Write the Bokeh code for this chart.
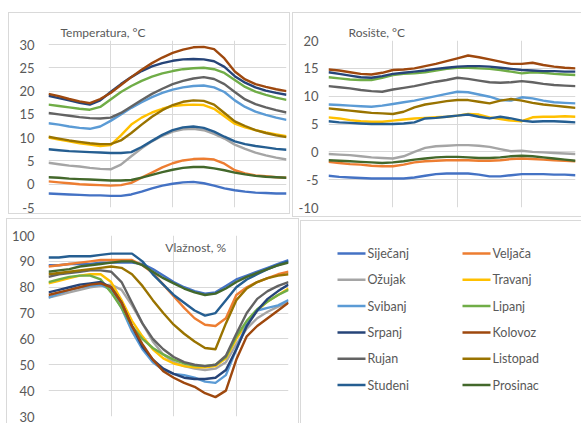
from bokeh.plotting import figure
from bokeh.models import Range1d, FixedTicker, Label, InlineStyleSheet
from bokeh.layouts import column, row
from bokeh.embed import file_html
from bokeh.resources import INLINE

# ---------------- data ----------------
hours = list(range(24))
months = ["Siječanj", "Veljača", "Ožujak", "Travanj", "Svibanj", "Lipanj",
          "Srpanj", "Kolovoz", "Rujan", "Listopad", "Studeni", "Prosinac"]
colors = ["#4472C4", "#ED7D31", "#A5A5A5", "#FFC000", "#5B9BD5", "#70AD47",
          "#264478", "#9E480E", "#636363", "#997300", "#255E91", "#43682B"]

# Temperatura, °C
t_sij = [-2.0, -2.1, -2.2, -2.3, -2.4, -2.4, -2.5, -2.5, -2.2, -1.6, -0.9, -0.3, 0.1, 0.4, 0.5, 0.2, -0.3, -0.9, -1.3, -1.6, -1.8, -1.9, -2.0, -2.0]
t_velj = [0.6, 0.4, 0.2, 0.0, -0.1, -0.2, -0.3, -0.2, 0.3, 1.4, 2.5, 3.6, 4.5, 5.1, 5.4, 5.5, 5.3, 4.4, 3.0, 2.3, 1.9, 1.7, 1.5, 1.4]
t_ozu = [4.6, 4.3, 4.0, 3.8, 3.5, 3.3, 3.2, 4.2, 6.0, 7.7, 9.2, 10.4, 11.3, 11.8, 11.9, 11.6, 10.8, 9.8, 8.5, 7.6, 6.8, 6.2, 5.7, 5.3]
t_trav = [10.0, 9.6, 9.2, 8.8, 8.5, 8.2, 8.4, 10.5, 12.8, 14.3, 15.4, 16.2, 16.8, 17.0, 17.1, 17.0, 16.2, 14.6, 13.0, 12.2, 11.6, 11.1, 10.7, 10.3]
t_svib = [13.1, 12.8, 12.4, 12.1, 11.9, 12.4, 13.6, 15.0, 16.4, 17.6, 18.7, 19.6, 20.3, 20.8, 21.1, 21.2, 20.8, 19.8, 18.0, 16.6, 15.6, 14.9, 14.3, 13.8]
t_lip = [17.1, 16.8, 16.5, 16.2, 16.0, 16.6, 18.2, 19.8, 21.1, 22.2, 23.1, 23.8, 24.3, 24.7, 24.9, 25.0, 24.7, 23.9, 22.4, 20.9, 19.9, 19.2, 18.6, 18.1]
t_srp = [19.0, 18.5, 18.0, 17.5, 17.1, 18.0, 19.8, 21.5, 23.0, 24.3, 25.3, 26.0, 26.5, 26.8, 26.9, 26.8, 26.4, 25.2, 23.2, 21.8, 20.8, 20.1, 19.6, 19.2]
t_kol = [19.4, 18.9, 18.3, 17.8, 17.4, 18.3, 19.6, 21.3, 23.0, 24.6, 26.0, 27.2, 28.2, 28.9, 29.4, 29.5, 29.0, 27.0, 24.2, 22.5, 21.5, 20.9, 20.4, 20.0]
t_ruj = [15.3, 15.0, 14.7, 14.4, 14.2, 14.1, 14.3, 15.3, 16.7, 18.1, 19.4, 20.5, 21.5, 22.2, 22.7, 23.0, 22.6, 21.5, 19.8, 18.2, 17.2, 16.5, 15.9, 15.4]
t_list = [10.2, 9.8, 9.4, 9.1, 8.8, 8.6, 8.6, 9.4, 11.0, 12.8, 14.5, 15.9, 17.0, 17.7, 18.0, 17.9, 17.1, 15.3, 13.5, 12.5, 11.6, 11.0, 10.5, 10.1]
t_stud = [7.5, 7.3, 7.1, 7.0, 6.9, 6.8, 6.7, 6.7, 6.9, 8.0, 9.3, 10.6, 11.6, 12.2, 12.4, 12.1, 11.3, 10.2, 9.2, 8.6, 8.2, 7.9, 7.6, 7.4]
t_pros = [1.5, 1.4, 1.2, 1.1, 1.0, 0.9, 0.8, 0.8, 0.9, 1.4, 2.0, 2.6, 3.1, 3.5, 3.7, 3.7, 3.4, 3.0, 2.5, 2.1, 1.8, 1.6, 1.5, 1.4]

# Rosište, °C
r_sij = [-4.3, -4.5, -4.6, -4.7, -4.8, -4.8, -4.8, -4.8, -4.6, -4.3, -4.0, -3.9, -3.9, -3.9, -4.1, -4.4, -4.4, -4.2, -4.0, -4.0, -4.0, -4.1, -4.1, -4.2]
r_velj = [-1.8, -2.0, -2.2, -2.3, -2.5, -2.6, -2.6, -2.3, -1.9, -1.7, -1.6, -1.5, -1.5, -1.5, -1.6, -1.6, -1.5, -1.3, -1.2, -1.3, -1.4, -1.5, -1.6, -1.7]
r_ozu = [-0.4, -0.5, -0.6, -0.8, -1.0, -1.1, -1.2, -0.8, 0.0, 0.7, 1.0, 1.1, 1.2, 1.2, 1.1, 0.9, 0.5, 0.1, 0.2, 0.0, -0.1, -0.2, -0.3, -0.4]
r_trav = [6.2, 6.0, 5.7, 5.5, 5.4, 5.4, 5.6, 5.8, 6.0, 6.1, 6.2, 6.3, 6.5, 6.8, 6.7, 6.2, 5.9, 5.6, 5.5, 6.2, 6.3, 6.3, 6.4, 6.3]
r_svib = [8.5, 8.4, 8.3, 8.2, 8.1, 8.3, 8.6, 8.9, 9.2, 9.6, 10.0, 10.4, 10.8, 10.7, 10.3, 9.9, 9.3, 9.2, 9.8, 9.6, 9.2, 8.9, 8.8, 8.7]
r_lip = [13.4, 13.2, 13.0, 12.9, 12.9, 13.3, 13.8, 14.0, 14.1, 14.3, 14.6, 14.9, 15.1, 15.1, 15.0, 14.9, 14.7, 14.4, 14.1, 14.3, 14.2, 14.0, 13.9, 13.8]
r_srp = [14.3, 14.0, 13.7, 13.4, 13.3, 13.6, 14.0, 14.2, 14.4, 14.6, 14.9, 15.1, 15.3, 15.4, 15.4, 15.3, 15.1, 14.9, 14.7, 14.6, 14.5, 14.5, 14.4, 14.4]
r_kol = [14.8, 14.6, 14.3, 14.0, 13.9, 14.2, 14.7, 14.8, 15.0, 15.4, 15.8, 16.3, 16.8, 17.3, 17.0, 16.6, 16.2, 15.8, 15.8, 16.0, 15.6, 15.3, 15.1, 15.0]
r_ruj = [11.8, 11.6, 11.4, 11.1, 10.9, 10.8, 11.2, 11.5, 11.8, 12.2, 12.6, 12.9, 13.3, 13.1, 12.8, 12.5, 12.4, 12.5, 12.7, 12.5, 12.2, 12.0, 11.9, 11.8]
r_list = [7.8, 7.6, 7.4, 7.2, 7.0, 6.9, 6.8, 7.2, 8.0, 8.5, 8.8, 9.1, 9.3, 9.3, 9.0, 8.7, 9.2, 9.5, 9.2, 8.8, 8.5, 8.3, 8.1, 7.9]
r_stud = [5.5, 5.3, 5.2, 5.1, 5.0, 5.0, 5.0, 5.1, 5.3, 6.0, 6.1, 6.3, 6.5, 6.7, 6.3, 6.0, 6.3, 6.0, 5.6, 5.4, 5.5, 5.5, 5.4, 5.3]
r_pros = [-1.5, -1.6, -1.7, -1.8, -1.9, -2.0, -1.9, -1.7, -1.4, -1.2, -1.0, -0.9, -0.9, -1.0, -1.1, -1.1, -1.0, -0.8, -0.7, -0.8, -1.0, -1.2, -1.4, -1.6]

# Vlažnost, %
v_sij = [88.5, 88.5, 89, 89, 89, 89.5, 89.5, 89.5, 89.5, 89, 87, 84.5, 82, 80, 78.5, 77.5, 78, 80.5, 83, 84.5, 86, 87.5, 89, 90.5]
v_velj = [88, 88.5, 89, 89.5, 90, 90.5, 90.5, 90.5, 90.5, 88.5, 85.5, 81, 76.5, 72, 68, 65.5, 65, 68, 77, 80, 82, 83.5, 85, 86]
v_ozu = [76, 77, 78, 79, 80, 80.5, 81, 79, 73, 66, 59, 54, 51, 49.5, 48.5, 48, 48.5, 51, 58, 64, 68, 70.5, 72.5, 74]
v_trav = [81.5, 82.5, 83.5, 84.5, 85, 85, 82, 75, 67, 61, 56, 52.5, 50.5, 49.5, 49, 49, 49.5, 52.5, 60, 66, 71, 74.5, 77, 79.5]
v_svib = [76, 77.5, 79, 80, 80.5, 81, 79, 72, 63, 56, 51, 48, 46.5, 46, 45, 43.5, 43, 46, 56, 66, 71, 72, 73, 75]
v_lip = [82, 83, 84, 84.5, 84.5, 83, 78, 72, 65, 60, 56.5, 54, 52, 50.5, 49.7, 49.5, 50, 53, 61, 67, 71.5, 74.5, 77, 79]
v_srp = [78, 79, 80, 81, 81.5, 82, 80, 74, 65, 57, 52, 48.5, 46.5, 45, 44.5, 44.5, 45, 48, 56, 65, 71, 75.5, 78.5, 81]
v_kol = [77, 78, 79, 80, 81, 81.5, 80, 74, 65, 58, 52, 47.5, 45, 43, 41.5, 39, 37.5, 40, 52, 61, 65, 68, 71, 74]
v_ruj = [84, 85, 85.5, 86, 86.5, 86.5, 86, 82, 74, 66, 60, 56, 53, 51, 50, 49.5, 50, 53.5, 62, 70, 75.5, 78.5, 80.5, 82]
v_list = [85, 85.5, 86, 86.5, 87, 87.5, 88, 87.5, 85, 80.5, 75, 70, 65.5, 62, 59, 56.5, 56, 66, 75, 79.5, 82, 83.5, 84.5, 85]
v_stud = [91.5, 91.5, 92, 92, 92, 92.5, 93, 93, 93, 90, 85, 81, 77, 74, 71, 69, 70, 75, 80, 83, 85, 87, 88.5, 90]
v_pros = [86, 86.5, 87, 88, 88.5, 89, 89.5, 90, 90, 88.5, 86, 83.5, 81.5, 79.5, 78, 77, 77.5, 79.5, 82, 84, 85.5, 87, 88.5, 89.5]

temperatura = [t_sij, t_velj, t_ozu, t_trav, t_svib, t_lip, t_srp, t_kol, t_ruj, t_list, t_stud, t_pros]
rosiste = [r_sij, r_velj, r_ozu, r_trav, r_svib, r_lip, r_srp, r_kol, r_ruj, r_list, r_stud, r_pros]
vlaznost = [v_sij, v_velj, v_ozu, v_trav, v_svib, v_lip, v_srp, v_kol, v_ruj, v_list, v_stud, v_pros]

t_ticks = [-5, 0, 5, 10, 15, 20, 25, 30]
r_ticks = [-10, -5, 0, 5, 10, 15, 20]
v_ticks = [30, 40, 50, 60, 70, 80, 90, 100]
hour_grid = [0, 6, 12, 18]

FONT = "Lato"
TXT = "#595959"
GRID = "#D9D9D9"
BORDER = "#D9D9D9"


def add_frame(p, left, top, right, bottom):
    # light panel border, drawn over the canvas by a CSS pseudo-element
    css = (":host::after { content: ''; position: absolute; "
           f"left: {left}px; top: {top}px; right: {right}px; bottom: {bottom}px; "
           f"border: 1px solid {BORDER}; pointer-events: none; }}")
    p.stylesheets = [InlineStyleSheet(css=css)]


def panel(width, height, yr, yticks, series, borders):
    left, right, top, bottom = borders
    p = figure(width=width, height=height, output_backend="svg", toolbar_location=None,
               x_range=Range1d(0, 23), y_range=Range1d(*yr),
               min_border_left=left, min_border_right=right,
               min_border_top=top, min_border_bottom=bottom)
    p.outline_line_color = None
    p.xaxis.visible = False
    p.xgrid.ticker = FixedTicker(ticks=hour_grid)
    p.xgrid.grid_line_color = GRID
    p.ygrid.grid_line_color = GRID
    ax = p.yaxis[0]
    ax.ticker = FixedTicker(ticks=yticks)
    ax.major_label_overrides = {t: str(t) for t in yticks}
    ax.axis_line_color = None
    ax.major_tick_line_color = None
    ax.minor_tick_line_color = None
    ax.major_tick_out = 0
    ax.major_label_standoff = 14
    ax.major_label_text_font = FONT
    ax.major_label_text_font_size = "13px"
    ax.major_label_text_color = TXT
    for vals, c in zip(series, colors):
        p.line(hours, vals, line_color=c, line_width=2.4, line_join="round")
    return p


def set_title(p, text, offset):
    p.title.text = text
    p.title.align = "left"
    p.title.offset = offset
    p.title.standoff = 1
    p.title.text_font = FONT
    p.title.text_font_size = "12px"
    p.title.text_font_style = "normal"
    p.title.text_color = TXT


# top row: both frames span y 40..207 of the 217 px row
p1 = panel(290, 217, (-5, 30.86), t_ticks, temperatura, (48, 4, 40, 10))
set_title(p1, "Temperatura, °C", 12)
p2 = panel(291, 217, (-10, 20), r_ticks, rosiste, (38, 6, 40, 10))
p2.yaxis[0].major_label_standoff = 10
set_title(p2, "Rosište, °C", 20)

# bottom row
p3 = panel(300, 206, (30, 100), v_ticks, vlaznost, (48, 12, 18, 7))
p3.add_layout(Label(x=11.2, y=95.4, text="Vlažnost, %", text_font=FONT, text_font_size="12px",
                    text_color=TXT, text_baseline="middle", text_align="left"))

# legend panel (frame aligned with p3: y 18..199 px from the panel top)
p4 = figure(width=281, height=206, output_backend="svg", toolbar_location=None,
            x_range=Range1d(0, 281), y_range=Range1d(199, 18),
            min_border_left=0, min_border_right=0,
            min_border_top=18, min_border_bottom=7)
p4.outline_line_color = None
p4.axis.visible = False
p4.grid.visible = False
row_y = [36 + 26.3 * (i // 2) for i in range(12)]
col_x = [37 + 125 * (i % 2) for i in range(12)]
p4.segment(x0=col_x, y0=row_y, x1=[x + 28 for x in col_x], y1=row_y,
           line_color=colors, line_width=2.5)
p4.text(x=[x + 30 for x in col_x], y=row_y, text=months,
        text_font={"value": FONT}, text_font_size={"value": "12.5px"},
        text_color=TXT, text_baseline="middle", text_align="left")

add_frame(p1, 8, 12, 0, 3)
add_frame(p2, 2, 12, -2, 0)
add_frame(p3, 6, 1, 1, -2)
add_frame(p4, 0, 3, -2, -2)

layout = column(row(p1, p2), row(p3, p4))
open("out.html", "w").write(file_html(layout, INLINE))
